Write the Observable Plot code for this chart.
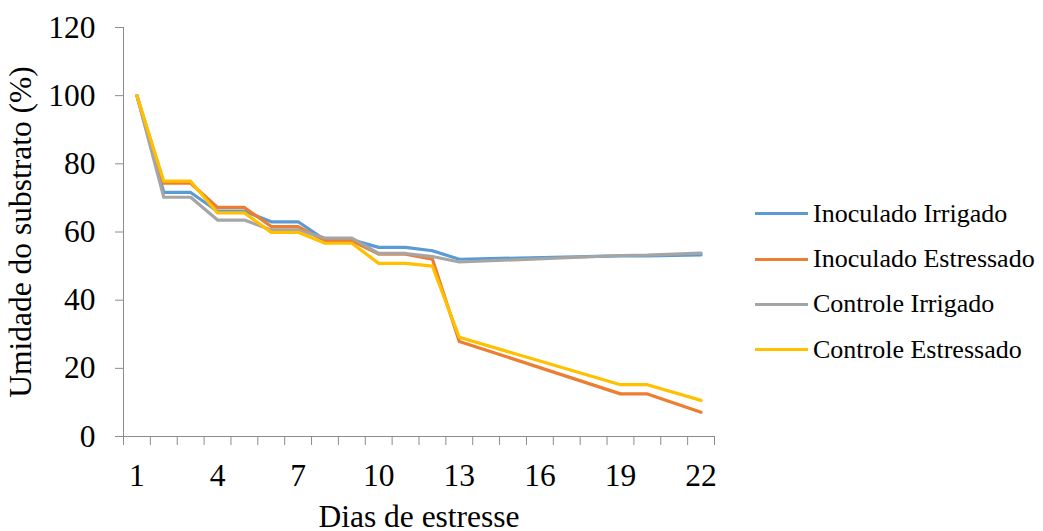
<!DOCTYPE html>
<html lang="pt">
<head>
<meta charset="utf-8">
<script src="https://cdn.jsdelivr.net/npm/d3@7"></script>
<script src="https://cdn.jsdelivr.net/npm/@observablehq/plot@0.6"></script>
<style>
  html, body { margin: 0; padding: 0; background: #fff; }
  #chart { position: relative; width: 1043px; height: 531px; font-family: "Liberation Serif", "Times New Roman", serif; }
  #legend { position: absolute; left: 755px; top: 191px; }
  .item { display: flex; align-items: center; height: 45.4px; font-size: 26px; color: #000; white-space: nowrap; }
  .swatch { width: 53px; height: 3px; margin-right: 5px; }
</style>
</head>
<body>
<div id="chart"></div>
<script>
// Dias com medição
const days = [1, 2, 3, 4, 5, 6, 7, 8, 9, 10, 11, 12, 13, 19, 20, 22];

// Umidade do substrato (%) por tratamento
const inoculadoIrrigado   = [100, 71.6, 71.6, 66.1, 66.1, 63.0, 63.0, 57.7, 57.7, 55.5, 55.5, 54.5, 52.0, 53.0, 53.0, 53.3];
const inoculadoEstressado = [100, 74.3, 74.3, 67.2, 67.2, 61.6, 61.6, 57.4, 57.4, 53.5, 53.5, 52.0, 27.9, 12.5, 12.5, 7.1];
const controleIrrigado    = [100, 70.2, 70.2, 63.5, 63.5, 60.6, 60.6, 58.2, 58.2, 53.7, 53.7, 52.8, 51.2, 53.1, 53.2, 53.8];
const controleEstressado  = [100, 74.9, 74.9, 65.6, 65.6, 59.9, 59.9, 56.7, 56.7, 50.8, 50.8, 50.0, 29.1, 15.2, 15.2, 10.6];

const seriesNames  = ["Inoculado Irrigado", "Inoculado Estressado", "Controle Irrigado", "Controle Estressado"];
const seriesValues = [inoculadoIrrigado, inoculadoEstressado, controleIrrigado, controleEstressado];
const seriesColors = ["#5B9BD5", "#ED7D31", "#A5A5A5", "#FFC000"];

const xTickLabels = [1, 4, 7, 10, 13, 16, 19, 22];
const yTicks = [0, 20, 40, 60, 80, 100, 120];

const axisColor = "#8c8c8c";

// Long table: one row per day and series
const rows = seriesNames.flatMap((name, i) =>
  days.map((d, j) => ({ day: d, value: seriesValues[i][j], series: name }))
);

// Category boundaries, where the small ticks on the day axis sit
const xBoundaries = d3.range(0.5, 23, 1);

const plot = Plot.plot({
  width: 1043,
  height: 531,
  marginLeft: 123,
  marginRight: 329,
  marginTop: 27,
  marginBottom: 95,
  style: { fontFamily: "Liberation Serif, Times New Roman, serif", fontSize: "31.5px", color: "#000", background: "#fff" },
  x: { domain: [0.5, 22.5] },
  y: { domain: [0, 120] },
  color: { domain: seriesNames, range: seriesColors },
  marks: [
    Plot.ruleX([0.5], { stroke: axisColor, strokeWidth: 1 }),
    Plot.ruleY([0], { stroke: axisColor, strokeWidth: 1 }),
    Plot.axisX({ ticks: xBoundaries, tickSize: 9, stroke: axisColor, tickFormat: () => "", label: null }),
    Plot.axisX({
      ticks: xTickLabels, tickSize: 0, tickPadding: 27,
      label: "Dias de estresse", labelAnchor: "center", labelArrow: "none", labelOffset: 90
    }),
    Plot.axisY({
      ticks: yTicks, tickSize: 8, tickPadding: 20, stroke: axisColor,
      label: "Umidade do substrato (%)", labelAnchor: "center", labelArrow: "none", labelOffset: 115
    }),
    Plot.line(rows, {
      x: "day", y: "value", z: "series", stroke: "series",
      strokeWidth: 3.2, strokeLinejoin: "round", strokeLinecap: "round"
    })
  ]
});

const chart = document.getElementById("chart");
chart.appendChild(plot);

// Legend to the right of the plot area
const legend = document.createElement("div");
legend.id = "legend";
seriesNames.forEach((name, i) => {
  const item = document.createElement("div");
  item.className = "item";
  const sw = document.createElement("div");
  sw.className = "swatch";
  sw.style.background = seriesColors[i];
  const label = document.createElement("span");
  label.textContent = name;
  item.appendChild(sw);
  item.appendChild(label);
  legend.appendChild(item);
});
chart.appendChild(legend);
</script>
</body>
</html>
